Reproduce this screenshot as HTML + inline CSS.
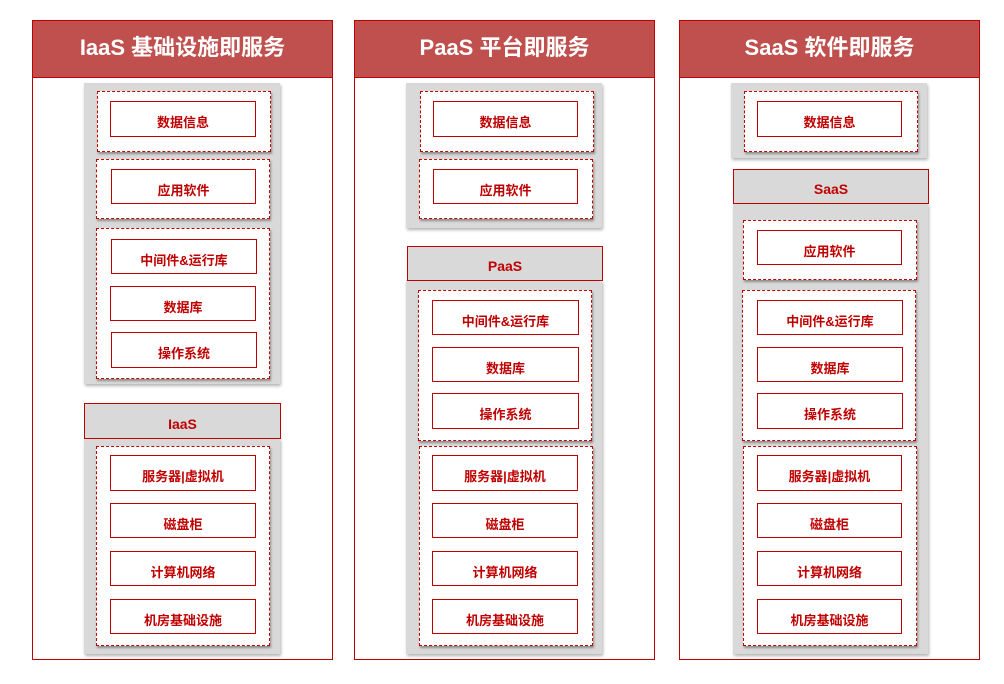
<!DOCTYPE html>
<html><head><meta charset="utf-8"><style>
body{margin:0;width:1004px;height:684px;background:#fff;position:relative;overflow:hidden;font-family:"Liberation Sans","Noto Sans CJK SC",sans-serif;}
div{position:absolute;box-sizing:border-box;}
.o{border:1px solid #c00000;background:#fff;}
.h{background:#c0504d;border:1px solid #c00000;color:#fff;font-weight:bold;font-size:22px;display:flex;align-items:center;justify-content:center;padding-bottom:6px;}
.g{background:#d9d9d9;box-shadow:1px 2px 3px rgba(0,0,0,0.3);}
.d{border:1px dashed #c00000;background:#fff;box-shadow:1px 2px 2px rgba(0,0,0,0.35);}
.b{border:1px solid #c00000;background:#fff;color:#c00000;font-weight:bold;font-size:13px;display:flex;align-items:center;justify-content:center;padding-top:5px;}
.l{border:1px solid #c00000;background:#d9d9d9;color:#c00000;font-weight:bold;font-size:14px;display:flex;align-items:center;justify-content:center;padding-top:5px;}
</style></head><body>
<!-- column 1 -->
<div class="o" style="left:32px;top:20px;width:301px;height:640px"></div>
<div class="h" style="left:32px;top:20px;width:301px;height:58px">IaaS 基础设施即服务</div>
<div class="g" style="left:84px;top:83px;width:196px;height:301px"></div>
<div class="d" style="left:97px;top:91px;width:174px;height:61px"></div>
<div class="b" style="left:110px;top:101px;width:146px;height:36px">数据信息</div>
<div class="d" style="left:96px;top:159px;width:174px;height:60px"></div>
<div class="b" style="left:111px;top:169px;width:145px;height:35px">应用软件</div>
<div class="d" style="left:96px;top:228px;width:174px;height:151px"></div>
<div class="b" style="left:111px;top:239px;width:146px;height:35px">中间件&amp;运行库</div>
<div class="b" style="left:110px;top:286px;width:146px;height:35px">数据库</div>
<div class="b" style="left:111px;top:332px;width:146px;height:36px">操作系统</div>
<div class="g" style="left:84px;top:438px;width:196px;height:216px"></div>
<div class="l" style="left:84px;top:403px;width:197px;height:36px">IaaS</div>
<div class="d" style="left:96px;top:446px;width:174px;height:200px"></div>
<div class="b" style="left:110px;top:455px;width:146px;height:36px">服务器|虚拟机</div>
<div class="b" style="left:110px;top:503px;width:146px;height:35px">磁盘柜</div>
<div class="b" style="left:110px;top:551px;width:146px;height:35px">计算机网络</div>
<div class="b" style="left:110px;top:599px;width:146px;height:35px">机房基础设施</div>

<!-- column 2 -->
<div class="o" style="left:354px;top:20px;width:301px;height:640px"></div>
<div class="h" style="left:354px;top:20px;width:301px;height:58px">PaaS 平台即服务</div>
<div class="g" style="left:406px;top:83px;width:196px;height:145px"></div>
<div class="d" style="left:420px;top:91px;width:174px;height:61px"></div>
<div class="b" style="left:433px;top:101px;width:145px;height:36px">数据信息</div>
<div class="d" style="left:419px;top:159px;width:174px;height:60px"></div>
<div class="b" style="left:433px;top:169px;width:145px;height:35px">应用软件</div>
<div class="g" style="left:406px;top:280px;width:196px;height:374px"></div>
<div class="l" style="left:407px;top:246px;width:196px;height:35px">PaaS</div>
<div class="d" style="left:418px;top:290px;width:174px;height:151px"></div>
<div class="b" style="left:432px;top:300px;width:147px;height:35px">中间件&amp;运行库</div>
<div class="b" style="left:432px;top:347px;width:147px;height:35px">数据库</div>
<div class="b" style="left:432px;top:393px;width:147px;height:36px">操作系统</div>
<div class="d" style="left:419px;top:446px;width:174px;height:200px"></div>
<div class="b" style="left:432px;top:455px;width:146px;height:36px">服务器|虚拟机</div>
<div class="b" style="left:432px;top:503px;width:146px;height:35px">磁盘柜</div>
<div class="b" style="left:432px;top:551px;width:146px;height:35px">计算机网络</div>
<div class="b" style="left:432px;top:599px;width:146px;height:35px">机房基础设施</div>

<!-- column 3 -->
<div class="o" style="left:679px;top:20px;width:301px;height:640px"></div>
<div class="h" style="left:679px;top:20px;width:301px;height:58px">SaaS 软件即服务</div>
<div class="g" style="left:731px;top:83px;width:196px;height:75px"></div>
<div class="d" style="left:744px;top:91px;width:174px;height:61px"></div>
<div class="b" style="left:757px;top:101px;width:145px;height:36px">数据信息</div>
<div class="g" style="left:733px;top:203px;width:195px;height:451px"></div>
<div class="l" style="left:733px;top:169px;width:196px;height:35px">SaaS</div>
<div class="d" style="left:743px;top:220px;width:174px;height:60px"></div>
<div class="b" style="left:757px;top:230px;width:145px;height:35px">应用软件</div>
<div class="d" style="left:742px;top:290px;width:174px;height:151px"></div>
<div class="b" style="left:757px;top:300px;width:146px;height:35px">中间件&amp;运行库</div>
<div class="b" style="left:757px;top:347px;width:146px;height:35px">数据库</div>
<div class="b" style="left:757px;top:393px;width:146px;height:36px">操作系统</div>
<div class="d" style="left:743px;top:446px;width:174px;height:200px"></div>
<div class="b" style="left:757px;top:455px;width:145px;height:36px">服务器|虚拟机</div>
<div class="b" style="left:757px;top:503px;width:145px;height:35px">磁盘柜</div>
<div class="b" style="left:757px;top:551px;width:145px;height:35px">计算机网络</div>
<div class="b" style="left:757px;top:599px;width:145px;height:35px">机房基础设施</div>
</body></html>
